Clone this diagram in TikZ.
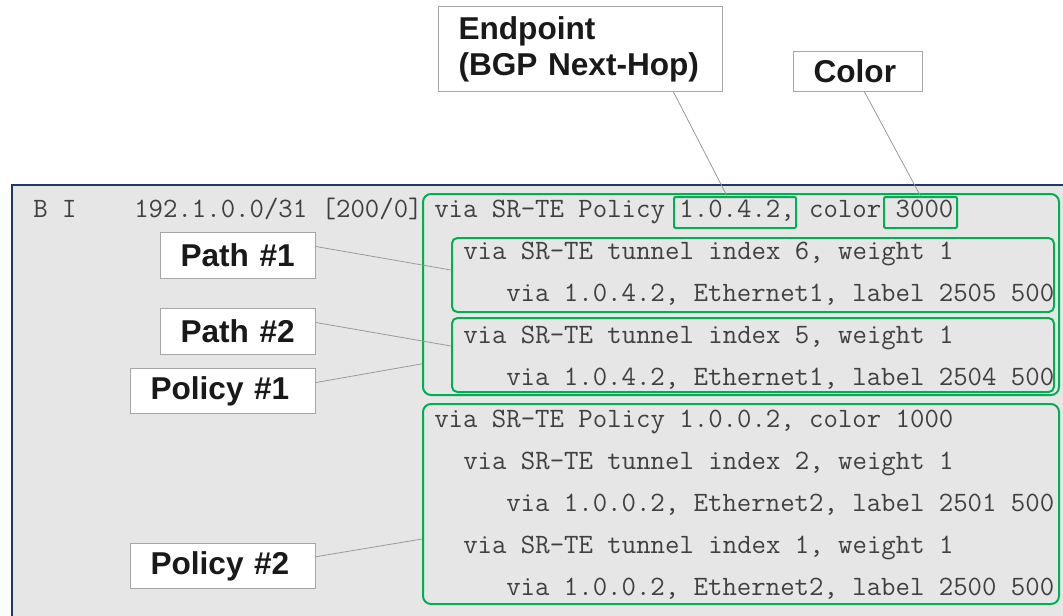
\documentclass[tikz,border=0pt]{standalone}
\usepackage{fontspec}
\setmainfont{Liberation Sans}
\setsansfont{Liberation Sans}
\usepackage{xcolor}
\usetikzlibrary{positioning}

\definecolor{cligreen}{HTML}{00B050}
\definecolor{cliback}{HTML}{E7E6E6}
\definecolor{cliframe}{HTML}{203864}
\definecolor{tagborder}{HTML}{A6A6A6}
\definecolor{tagline}{HTML}{9A9A9A}
\definecolor{clitext}{HTML}{404040}

\tikzset{
  cli/.style={font=\ttfamily\fontsize{21}{21}\selectfont, text=clitext, anchor=base west, inner sep=0pt},
  grpbox/.style={draw=cligreen, line width=1.5pt, rounded corners=6pt, anchor=north west, inner sep=0pt},
  selbox/.style={draw=cligreen, line width=1.5pt, rounded corners=1pt, inner sep=0pt, minimum height=23.25pt},
  tag/.style={draw=tagborder, fill=white, line width=0.8pt, anchor=north west, inner ysep=0pt, inner xsep=15pt,
    align=left, font=\sffamily\bfseries\fontsize{23.7}{27}\selectfont, text=black!90},
  callout/.style={draw=tagline, line width=0.6pt}
}

\begin{document}
\begin{tikzpicture}[x=0.75pt, y=-0.75pt]
  \useasboundingbox (0,0) rectangle (1063,615);
  % CLI output panel
  \fill[cliback] (12,185) rectangle (1070,620);
  \draw[cliframe, line width=1.5pt] (12,620) -- (12,185) -- (1070,185);

  % green groups
  \node[grpbox, minimum width=477pt, minimum height=150.75pt] (pol1) at (422,193) {};
  \node[grpbox, rounded corners=4pt, minimum width=451.5pt, minimum height=55.5pt] (pth1) at (451,237) {};
  \node[grpbox, rounded corners=4pt, minimum width=451.5pt, minimum height=55.5pt] (pth2) at (451,317) {};
  \node[grpbox, minimum width=477pt, minimum height=150pt] (pol2) at (422,403) {};
  \node[selbox, minimum width=91.5pt] (ep) at (735,212.5) {};
  \node[selbox, minimum width=54.75pt] (col) at (920.5,212.5) {};

  % route lines
  \node[cli] (flags) at (33,217) {B I};
  \node[cli] (pfx) at (134,217) {192.1.0.0/31 [200/0]};
  \node[cli] (r1) at (434,217) {via SR-TE Policy 1.0.4.2, color 3000};
  \node[cli] (r2) at (463,259) {via SR-TE tunnel index 6, weight 1};
  \node[cli] (r3) at (506,301) {via 1.0.4.2, Ethernet1, label 2505 500};
  \node[cli] (r4) at (463,343) {via SR-TE tunnel index 5, weight 1};
  \node[cli] (r5) at (506,385) {via 1.0.4.2, Ethernet1, label 2504 500};
  \node[cli] (r6) at (434,427) {via SR-TE Policy 1.0.0.2, color 1000};
  \node[cli] (r7) at (463,469) {via SR-TE tunnel index 2, weight 1};
  \node[cli] (r8) at (506,511) {via 1.0.0.2, Ethernet2, label 2501 500};
  \node[cli] (r9) at (463,553) {via SR-TE tunnel index 1, weight 1};
  \node[cli] (r10) at (506,595) {via 1.0.0.2, Ethernet2, label 2500 500};

  % callout tags
  \node[tag, minimum height=63.75pt, text width=183pt] (endp) at (438,6) {Endpoint\\(BGP Next-Hop)};
  \node[tag, minimum height=30pt, text width=66.75pt] (colr) at (793,51) {Color};
  \node[tag, minimum height=34.5pt, text width=86.25pt] (path1) at (160,232) {Path \#1};
  \node[tag, minimum height=34.5pt, text width=86.25pt] (path2) at (160,308) {Path \#2};
  \node[tag, minimum height=33.75pt, text width=108.75pt] (polx1) at (130,368) {Policy \#1};
  \node[tag, minimum height=33.75pt, text width=108.75pt] (polx2) at (130,543) {Policy \#2};

  \draw[callout] ([xshift=69.75pt]endp.south) -- ([xshift=-6pt]ep.north);
  \draw[callout] ([xshift=4.9pt]colr.south) -- (col.north);
  \draw[callout] ([yshift=6.75pt]path1.east) -- ([yshift=3.75pt]pth1.west);
  \draw[callout] ([yshift=6.75pt]path2.east) -- ([yshift=6.75pt]pth2.west);
  \draw[callout] ([yshift=6.4pt]polx1.east) -- ([yshift=-52pt]pol1.west);
  \draw[callout] ([yshift=7pt]polx2.east) -- ([yshift=-26.25pt]pol2.west);
\end{tikzpicture}
\end{document}
